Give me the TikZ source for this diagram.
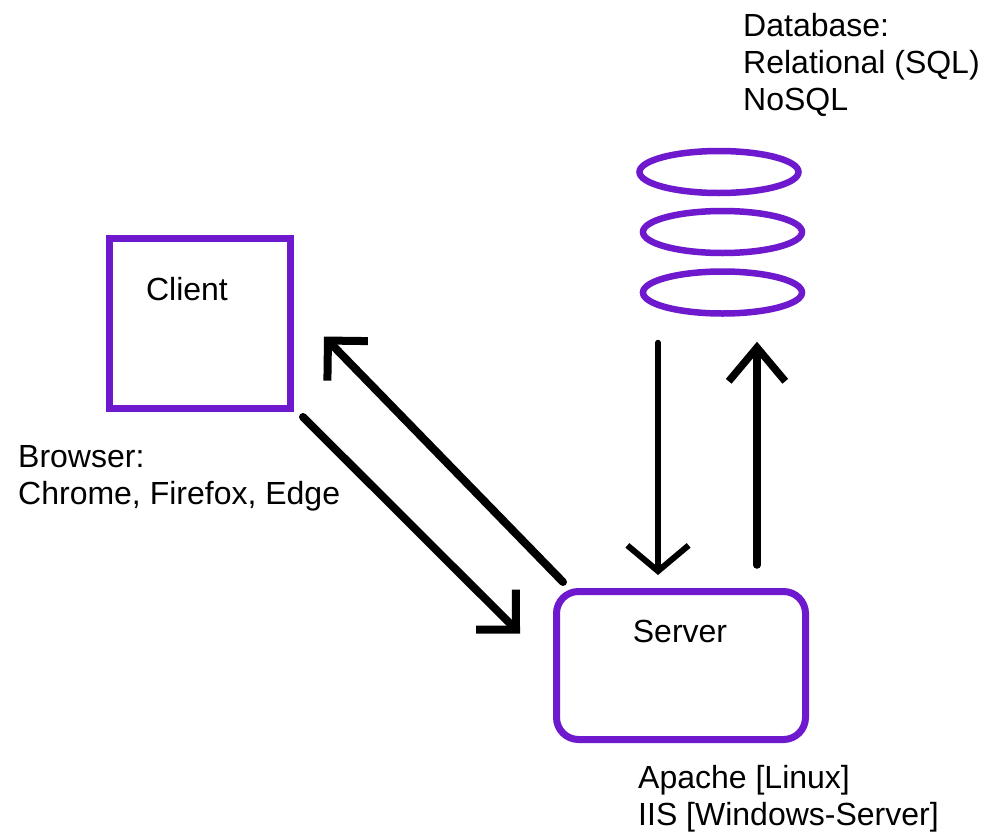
\documentclass[tikz,border=0pt]{standalone}
\usepackage{fontspec}
\setmainfont{Liberation Sans}
\usetikzlibrary{arrows.meta}
\usetikzlibrary{shapes.geometric}
\definecolor{boxpurple}{RGB}{110,25,205}

\begin{document}
\begin{tikzpicture}[x=1pt,y=-1pt,
 box/.style={draw=boxpurple,line width=7pt},
 disk/.style={ellipse,draw=boxpurple,line width=6.5pt,minimum width=159pt,minimum height=42pt,inner sep=0pt},
 arr/.style={line width=8pt,line cap=round,-{Straight Barb[angle=90:40pt]}},
 lbl/.style={font=\fontsize{32}{37}\selectfont,inner sep=0pt,align=left}]
 \useasboundingbox[fill=white] (0,0) rectangle (987,835);
% boxes
 \node[box,minimum width=181pt,minimum height=170pt] (client) at (200,323.5) {};
 \node[box,rounded corners=22pt,minimum width=249pt,minimum height=148pt] (server) at (681,665.5) {};
 \node[lbl,anchor=base] (clientname) at (187,300) {Client};
 \node[lbl,anchor=base] (servername) at (680,642) {Server};
% database stack
 \node[disk] (db1) at (719,172) {};
 \node[disk] (db2) at (722.5,232) {};
 \node[disk] (db3) at (722.5,292.5) {};
% notes
 \node[lbl,anchor=north west] (dbnote) at (743,13) {Database:\\Relational (SQL)\\NoSQL};
 \node[lbl,anchor=north west] (browsernote) at (18,445) {Browser:\\Chrome, Firefox, Edge};
 \node[lbl,anchor=north west] (servernote) at (638,765) {Apache [Linux]\\IIS [Windows-Server]};
% requests and responses
 \draw[arr] ([shift={(9,5)}]client.south east) -- ([shift={(-33,-32)}]server.west);
 \draw[arr] ([shift={(10,-6)}]server.north west) -- ([shift={(30,13)}]client.east);
 \draw[arr,line width=7.5pt,-{Straight Barb[angle=80:44pt]}] ([shift={(76,-23)}]server.north) -- ([shift={(34.5,25)}]db3.south);
 \draw[arr,line width=6pt,-{Straight Barb[angle=100:40pt]}] ([shift={(-64.5,26)}]db3.south) -- ([shift={(-23,-13)}]server.north);
\end{tikzpicture}
\end{document}
